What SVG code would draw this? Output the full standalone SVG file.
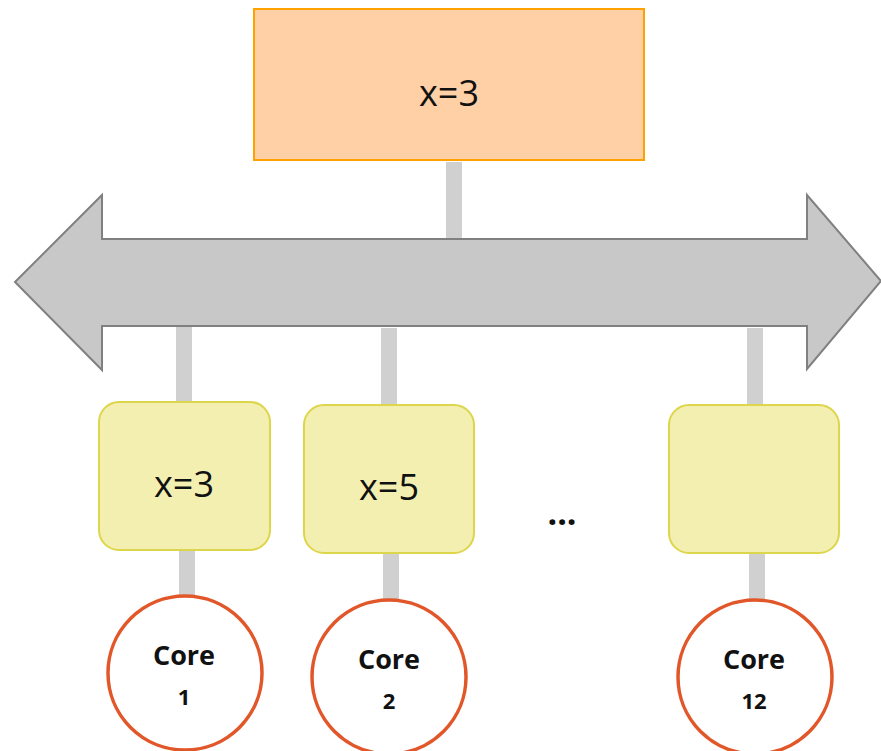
<svg xmlns="http://www.w3.org/2000/svg" width="881" height="751" viewBox="0 0 881 751">
  <style>
    .lbl { font-family: "Open Sans", "Noto Sans", "Liberation Sans", sans-serif; fill: #111; text-anchor: middle; }
    .val { font-size: 36px; }
    .core { font-family: "Open Sans", "Noto Sans", "Liberation Sans", sans-serif; font-weight: bold; fill: #111; text-anchor: middle; }
    .link { fill: #D0D0D0; }
    .cache { fill: #F2EFB0; stroke: #DDD54A; stroke-width: 2; }
    .cpu { fill: #FFFFFF; stroke: #E2572A; stroke-width: 3.5; }
  </style>

  <!-- connectors -->
  <g id="connectors">
    <rect class="link" x="446" y="162" width="16" height="78"/>
    <rect class="link" x="176" y="325" width="16" height="78"/>
    <rect class="link" x="381" y="328" width="16" height="78"/>
    <rect class="link" x="747" y="328" width="16" height="78"/>
    <rect class="link" x="179" y="551" width="16" height="47"/>
    <rect class="link" x="383" y="554" width="16" height="47"/>
    <rect class="link" x="749" y="554" width="16" height="47"/>
  </g>

  <!-- shared bus -->
  <g id="bus">
    <polygon points="15,282 102,195 102,239 807,239 807,195 881,281 807,369 807,326 102,326 102,370"
             fill="#C8C8C8" stroke="#808080" stroke-width="2" stroke-linejoin="miter"/>
  </g>

  <!-- main memory -->
  <g id="memory">
    <rect x="254" y="9" width="390" height="151" fill="#FFCFA5" stroke="#FFA200" stroke-width="2"/>
    <text class="lbl val" x="449" y="106">x=3</text>
  </g>

  <!-- caches -->
  <g id="cache1">
    <rect class="cache" x="99" y="402" width="171" height="148" rx="20"/>
    <text class="lbl val" x="184" y="497">x=3</text>
  </g>
  <g id="cache2">
    <rect class="cache" x="304" y="405" width="170" height="148" rx="20"/>
    <text class="lbl val" x="389" y="500">x=5</text>
  </g>
  <g id="cache12">
    <rect class="cache" x="669" y="405" width="170" height="148" rx="20"/>
  </g>

  <g id="ellipsis">
    <text class="lbl" x="562" y="525" font-size="34" font-weight="bold">...</text>
  </g>

  <!-- cores -->
  <g id="core1">
    <circle class="cpu" cx="185" cy="673" r="77"/>
    <text class="core" x="184" y="665" font-size="27">Core</text>
    <text class="core" x="184" y="705" font-size="22">1</text>
  </g>
  <g id="core2">
    <circle class="cpu" cx="389" cy="677" r="77"/>
    <text class="core" x="389" y="669" font-size="27">Core</text>
    <text class="core" x="389" y="709" font-size="22">2</text>
  </g>
  <g id="core12">
    <circle class="cpu" cx="755" cy="677" r="77"/>
    <text class="core" x="754" y="669" font-size="27">Core</text>
    <text class="core" x="754" y="709" font-size="22">12</text>
  </g>
</svg>
